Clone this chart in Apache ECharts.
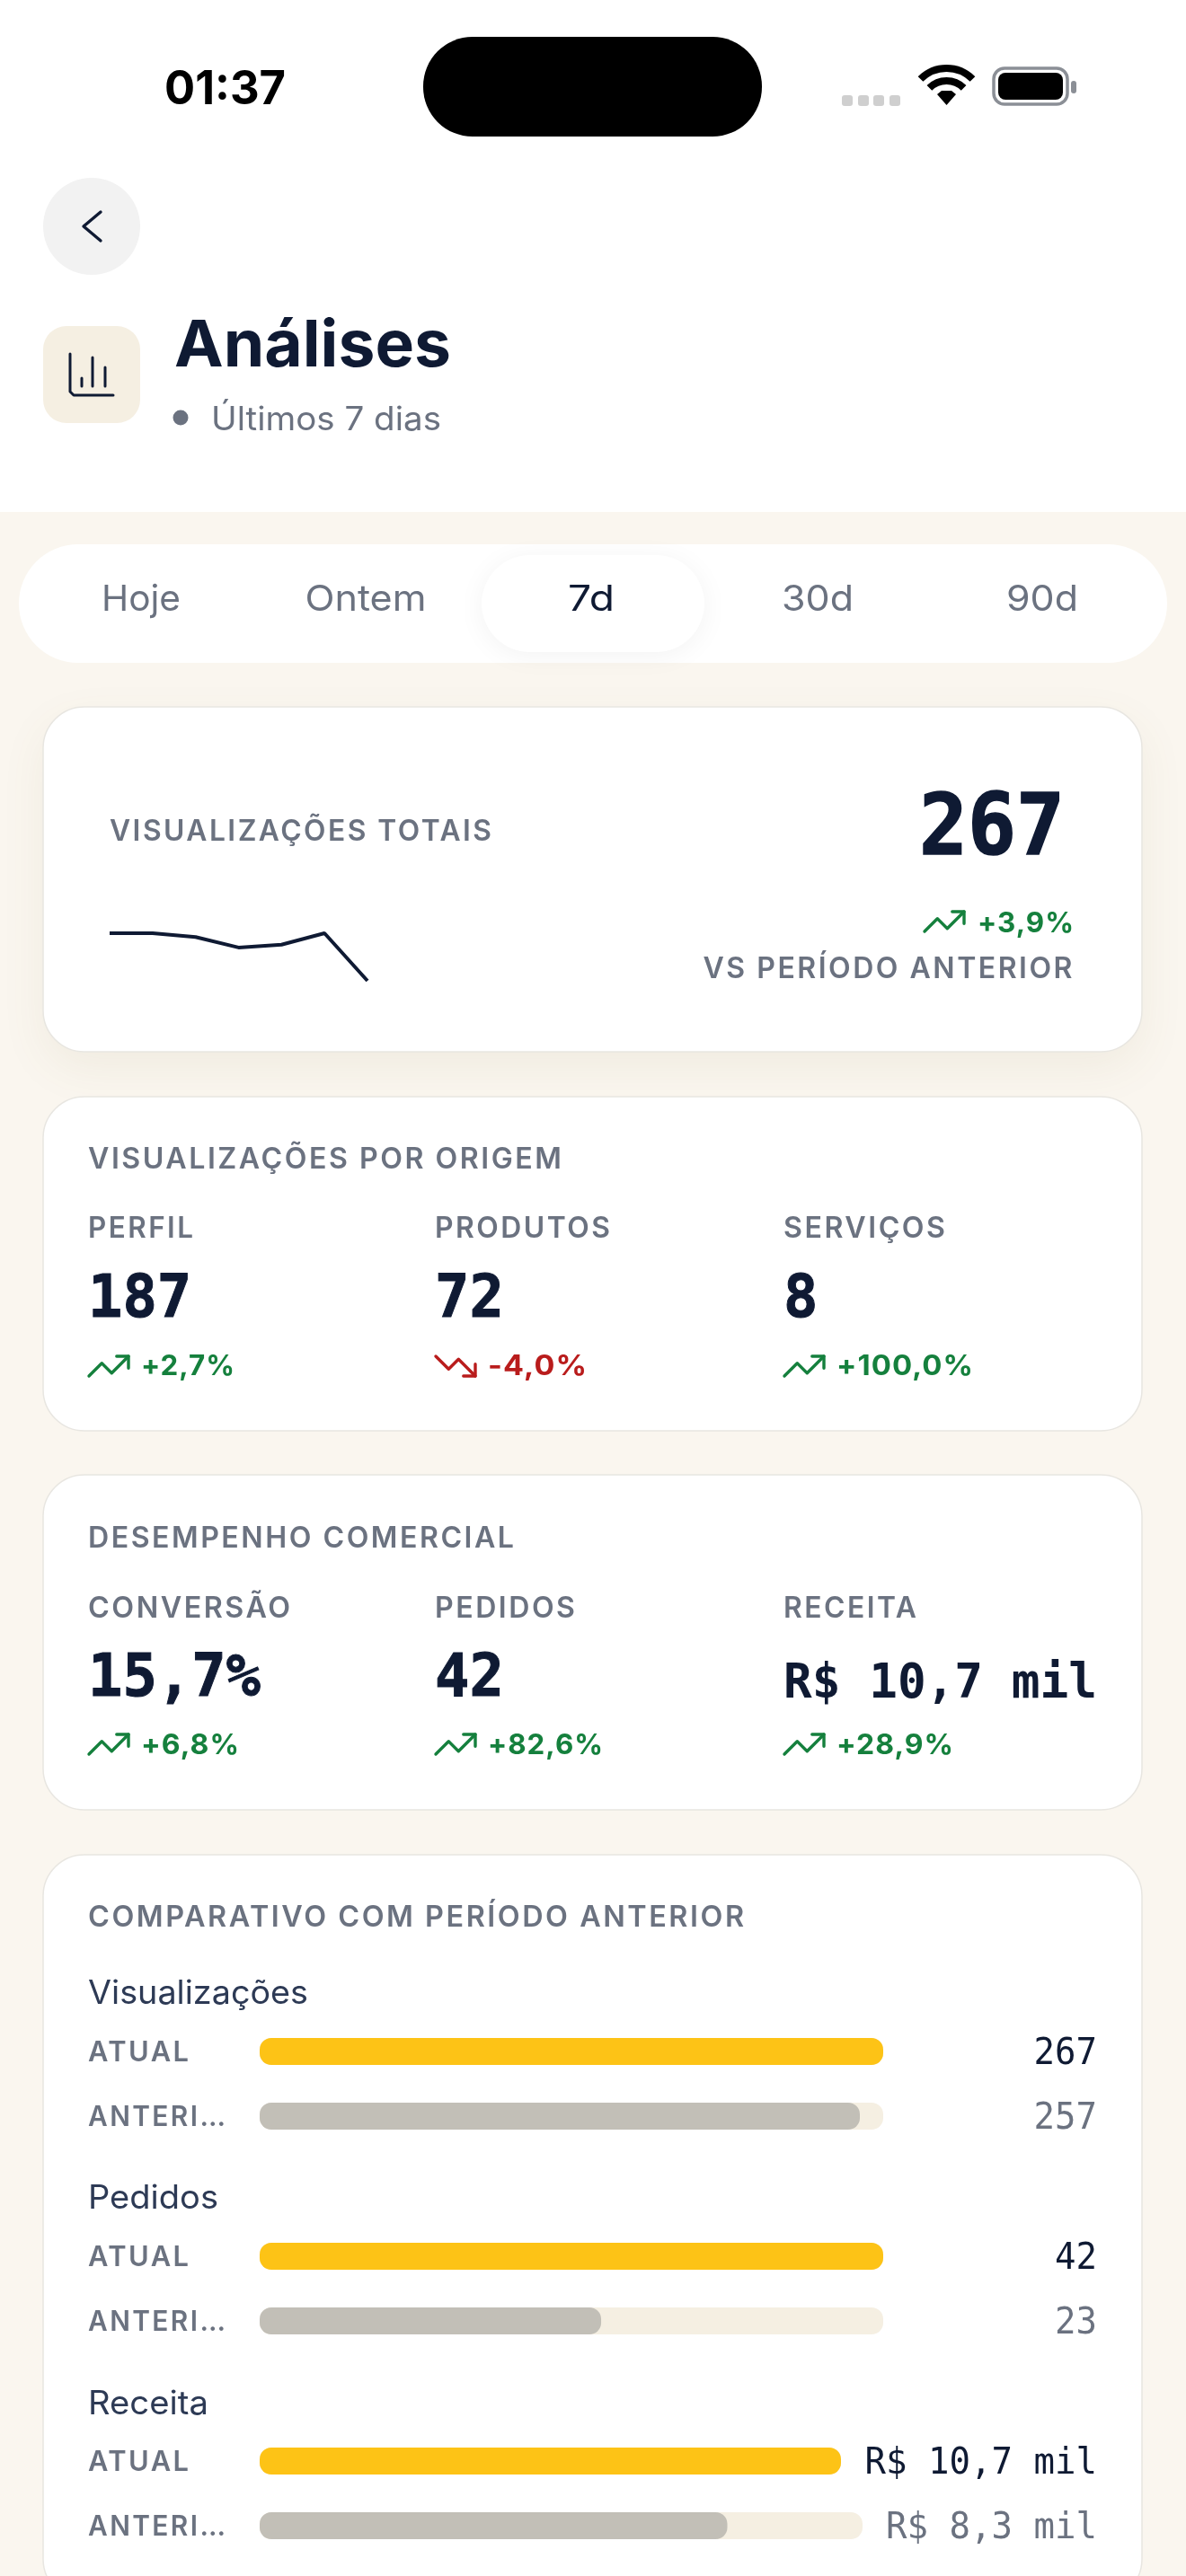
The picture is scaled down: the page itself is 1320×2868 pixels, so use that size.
<!DOCTYPE html>
<html lang="pt-BR">
<head>
<meta charset="utf-8">
<title>Análises</title>
<style>html,body{margin:0;padding:0;background:#fff}#c{width:1320px;height:2868px}</style>
<script src="https://cdn.jsdelivr.net/npm/echarts@6/dist/echarts.min.js"></script>
</head>
<body>
<div id="c"></div>
<script>
// ---- data ----
const periodTabs = ['Hoje', 'Ontem', '7d', '30d', '90d'];
const sparkDays = ['d1', 'd2', 'd3', 'd4', 'd5', 'd6', 'd7'];
const sparkValues = [50, 50, 46, 35, 38, 50, 0];
const originLabels = ['PERFIL', 'PRODUTOS', 'SERVIÇOS'];
const originValues = ['187', '72', '8'];
const originChanges = ['+2,7%', '-4,0%', '+100,0%'];
const salesLabels = ['CONVERSÃO', 'PEDIDOS', 'RECEITA'];
const salesValues = ['15,7%', '42', 'R$ 10,7 mil'];
const salesChanges = ['+6,8%', '+82,6%', '+28,9%'];
const compareMetrics = ['Visualizações', 'Pedidos', 'Receita'];
const compareCurrent = [267, 42, 10.7];
const comparePrevious = [257, 23, 8.3];
const compareCurrentText = ['267', '42', 'R$ 10,7 mil'];
const comparePreviousText = ['257', '23', 'R$ 8,3 mil'];

// ---- palette / helpers ----
const INK = '#0f1a33', GREY = '#6b7280', GREEN = '#15803d', RED = '#b91c1c', BG = '#faf6ef', SAND = '#f5efe2', LINE = '#e8e6e1';
const SANS = 'Inter', MONO = '"DejaVu Sans Mono"';
const midOffset = { Inter: 0.295, '"DejaVu Sans Mono"': 0.256 };
const mctx = document.createElement('canvas').getContext('2d');
const spaced = new Map();
['fillText', 'strokeText'].forEach(fn => {
  const native = CanvasRenderingContext2D.prototype[fn];
  CanvasRenderingContext2D.prototype[fn] = function (s, x, y, m) {
    this.letterSpacing = (spaced.get(s) || 0) + 'px';
    return m === undefined ? native.call(this, s, x, y) : native.call(this, s, x, y, m);
  };
});
const g = [];
function text(str, x, base, size, weight, color, family, w, align, ls, heavy) {
  if (ls) spaced.set(str, ls);
  mctx.font = weight + ' ' + size + 'px ' + family;
  mctx.letterSpacing = (ls || 0) + 'px';
  const sx = w ? w / (mctx.measureText(str).width - (ls || 0)) : 1;
  const style = { text: str, fill: color, font: weight + ' ' + size + 'px ' + family, align: align || 'left', verticalAlign: 'middle' };
  if (heavy) { style.stroke = color; style.lineWidth = heavy; }
  g.push({ type: 'text', x, y: base - midOffset[family] * size, scaleX: sx, silent: true, style });
}
function rect(x, y, w, h, r, fill, extra) {
  g.push({ type: 'rect', silent: true, shape: { x, y, width: w, height: h, r }, style: Object.assign({ fill }, extra || {}) });
}
function line(points, color, width) {
  g.push({ type: 'polyline', silent: true, shape: { points }, style: { stroke: color, lineWidth: width, fill: null, lineCap: 'round', lineJoin: 'round' } });
}
function trend(up, x0, y0) {
  const k = 2.2, c = up ? GREEN : RED;
  const p = (a) => a.map(q => [x0 + (q[0] - 2) * k, y0 + (q[1] - 7) * k]);
  const A = up ? [[22, 7], [13.5, 15.5], [8.5, 10.5], [2, 17]] : [[22, 17], [13.5, 8.5], [8.5, 13.5], [2, 7]];
  const B = up ? [[16, 7], [22, 7], [22, 13]] : [[16, 17], [22, 17], [22, 11]];
  line(p(A), c, 3.4); line(p(B), c, 3.4);
}
function change(str, x, iconY, base, w) {
  const up = str[0] === '+';
  trend(up, x, iconY);
  text(str, x + 58, base, 31, 700, up ? GREEN : RED, SANS, w, 'left', 1);
}

// ---- page background ----
rect(0, 570, 1320, 2298, 0, BG);

// ---- status bar ----
text('01:37', 183, 116, 52, 700, '#000', SANS, 135);
rect(471, 41, 377, 111, 55, '#000');
[937, 955, 972, 990].forEach(x => rect(x, 106, 12, 12, 3, '#cfcfcf'));
[41, 27].forEach(r => g.push({ type: 'arc', silent: true, shape: { cx: 1053.5, cy: 117, r, startAngle: -Math.PI * 0.75, endAngle: -Math.PI * 0.25 }, style: { stroke: '#000', lineWidth: 8, fill: null } }));
g.push({ type: 'polygon', silent: true, shape: { points: [[1053.5, 117], [1043, 105], [1048, 101], [1059, 101], [1064, 105]] }, style: { fill: '#000' } });
rect(1106, 76, 82, 40, 12, '#fff', { stroke: '#8b8f96', lineWidth: 3.5 });
rect(1111, 81, 72, 30, 8, '#000');
rect(1192, 90, 6, 14, 3, '#8b8f96');

// ---- header ----
g.push({ type: 'circle', silent: true, shape: { cx: 102, cy: 252, r: 54 }, style: { fill: '#f2f2f2' } });
line([[112, 236], [93, 252], [112, 268]], INK, 3.4);
rect(48, 363, 108, 108, 26, SAND);
line([[78, 394], [78, 436], [82, 440], [126, 440]], INK, 3);
line([[91, 421], [91, 430]], INK, 3); line([[103, 398], [103, 430]], INK, 3); line([[117, 409], [117, 430]], INK, 3);
text('Análises', 194, 408, 72, 700, INK, SANS, 308);
g.push({ type: 'circle', silent: true, shape: { cx: 201, cy: 465, r: 8.5 }, style: { fill: GREY } });
text('Últimos 7 dias', 235, 479, 37, 400, GREY, SANS, 256);

// ---- tabs ----
rect(21, 606, 1278, 132, 66, '#fff');
rect(536, 618, 248, 108, 54, '#fff', { shadowBlur: 30, shadowColor: 'rgba(0,0,0,0.05)', shadowOffsetY: 4 });
const tabX = [157, 407, 658, 910, 1160], tabW = [88, 135, 52, 80, 80];
periodTabs.forEach((s, i) => text(s, tabX[i] - tabW[i] / 2, 680, 40, 400, s === '7d' ? INK : GREY, SANS, tabW[i]));

// ---- card 1 : total ----
rect(48, 787, 1223, 384, 46, '#fff', { stroke: LINE, lineWidth: 1.5, shadowBlur: 50, shadowOffsetY: 18, shadowColor: 'rgba(130,110,60,0.08)' });
text('VISUALIZAÇÕES TOTAIS', 122, 936, 32, 600, GREY, SANS, 425, 'left', 2.5);
text('267', 1185, 951, 94, 700, INK, MONO, 162, 'right', 0, 1.6);
trend(true, 1029, 1015);
text('+3,9%', 1196, 1038, 31, 700, GREEN, SANS, 107, 'right', 1);
text('VS PERÍODO ANTERIOR', 1196, 1089, 32, 600, GREY, SANS, 411, 'right', 2.5);

// ---- card 2 : origin ----
rect(48, 1221, 1223, 372, 46, '#fff', { stroke: LINE, lineWidth: 1.5 });
text('VISUALIZAÇÕES POR ORIGEM', 98, 1301, 32, 600, GREY, SANS, 527, 'left', 2.5);
const colX = [98, 484, 872];
const oW = [117, 195, 180], cW1 = [104, 110, 152];
originLabels.forEach((s, i) => {
  text(s, colX[i], 1378, 32, 600, GREY, SANS, oW[i], 'left', 2.5);
  text(originValues[i], colX[i], 1466, 66, 700, INK, MONO, originValues[i].length * 38.4, 'left', 0, 1);
  change(originChanges[i], colX[i] + 1, 1510, 1531, cW1[i]);
});

// ---- card 3 : sales ----
rect(48, 1642, 1223, 373, 46, '#fff', { stroke: LINE, lineWidth: 1.5 });
text('DESEMPENHO COMERCIAL', 98, 1723, 32, 600, GREY, SANS, 474, 'left', 2.5);
const sW = [225, 156, 148], cW2 = [109, 128, 130];
salesLabels.forEach((s, i) => {
  text(s, colX[i], 1801, 32, 600, GREY, SANS, sW[i], 'left', 2.5);
  if (i < 2) text(salesValues[i], colX[i], 1888, 66, 700, INK, MONO, salesValues[i].length * 38.4, 'left', 0, 1);
  else text(salesValues[i], colX[i], 1890, 54, 700, INK, MONO, 349);
  change(salesChanges[i], colX[i] + 1, 1931, 1953, cW2[i]);
});

// ---- card 4 : comparison ----
rect(48, 2065, 1223, 830, 46, '#fff', { stroke: LINE, lineWidth: 1.5 });
text('COMPARATIVO COM PERÍODO ANTERIOR', 98, 2145, 32, 600, GREY, SANS, 730, 'left', 2.5);
const nameBase = [2231, 2459, 2688], nameW = [245, 145, 134];
const rowCur = [2269, 2497, 2725], rowPrev = [2341, 2569, 2797];
const curW = [694, 694, 647], prevW = [694, 694, 671];
const grid = [], xAxis = [], yAxis = [], series = [];
function addRow(val, max, top, width, color) {
  const i = grid.length;
  grid.push({ left: 289, top, width, height: 30 });
  xAxis.push({ type: 'value', gridIndex: i, min: 0, max, show: false });
  yAxis.push({ type: 'category', gridIndex: i, data: ['v'], show: false });
  series.push({ type: 'bar', xAxisIndex: i, yAxisIndex: i, data: [val], barWidth: 30, silent: true,
    showBackground: true, backgroundStyle: { color: SAND, borderRadius: 13 },
    itemStyle: { color, borderRadius: 13 } });
}
compareMetrics.forEach((m, i) => {
  text(m, 98, nameBase[i], 37, 400, '#2d3a55', SANS, nameW[i]);
  text('ATUAL', 98, rowCur[i] + 26, 31, 600, GREY, SANS, 112, 'left', 2.5);
  text('ANTERI…', 98, rowPrev[i] + 26, 31, 600, GREY, SANS, 153, 'left', 2.5);
  text(compareCurrentText[i], 1221, rowCur[i] + 29, 40, 400, INK, MONO, compareCurrentText[i].length * 23.5, 'right');
  text(comparePreviousText[i], 1221, rowPrev[i] + 29, 40, 400, GREY, MONO, comparePreviousText[i].length * 23.5, 'right');
  addRow(compareCurrent[i], compareCurrent[i], rowCur[i], curW[i], '#fdc316');
  addRow(comparePrevious[i], compareCurrent[i], rowPrev[i], prevW[i], '#c2bfb7');
});

// ---- sparkline ----
const si = grid.length;
grid.push({ left: 122, top: 1039, width: 287, height: 53 });
xAxis.push({ type: 'category', gridIndex: si, data: sparkDays, boundaryGap: false, show: false });
yAxis.push({ type: 'value', gridIndex: si, min: 0, max: 50, show: false });
series.push({ type: 'line', xAxisIndex: si, yAxisIndex: si, data: sparkValues, symbol: 'none', silent: true, clip: false,
  lineStyle: { color: INK, width: 4 } });

const chart = echarts.init(document.getElementById('c'), null, { width: 1320, height: 2868, renderer: 'canvas' });
chart.setOption({ animation: false, backgroundColor: '#fff', grid, xAxis, yAxis, series, graphic: { elements: g } });
</script>
</body>
</html>
